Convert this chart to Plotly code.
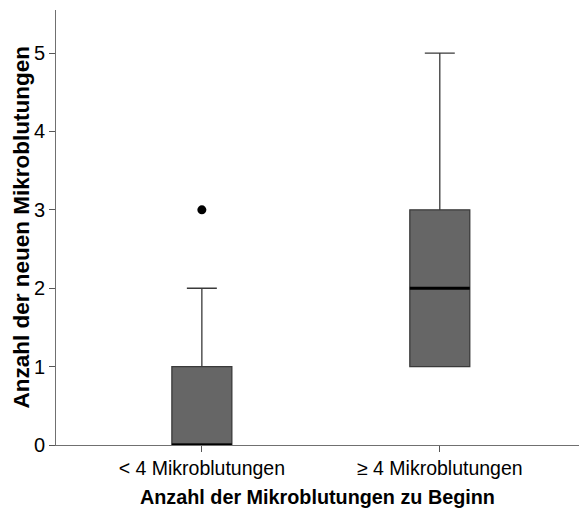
import plotly.graph_objects as go

# Gruppen und Kennwerte der Boxplots
categories = ["< 4 Mikroblutungen", "≥ 4 Mikroblutungen"]
positions = [0, 1]
q1 = [0, 1]
median = [0, 2]
q3 = [1, 3]
lower_whisker = [0, 1]
upper_whisker = [2, 5]
outlier_group = [0]
outlier_value = [3]

BOX_WIDTH = 0.252
FONT = "Liberation Sans, Arial, sans-serif"

fig = go.Figure()

for i, pos in enumerate(positions):
    fig.add_trace(go.Box(
        x=[pos], q1=[q1[i]], median=[median[i]], q3=[q3[i]],
        lowerfence=[lower_whisker[i]], upperfence=[upper_whisker[i]],
        width=BOX_WIDTH, whiskerwidth=0.5,
        fillcolor="#666666",
        line=dict(color="#3a3a3a", width=1.3),
        boxpoints=False, hoverinfo="skip", showlegend=False,
    ))
    # Median als kräftige schwarze Linie
    fig.add_trace(go.Scatter(
        x=[pos - BOX_WIDTH / 2, pos + BOX_WIDTH / 2],
        y=[median[i], median[i]],
        mode="lines", line=dict(color="black", width=3),
        cliponaxis=False, hoverinfo="skip", showlegend=False,
    ))

# Ausreißer
fig.add_trace(go.Scatter(
    x=[positions[g] for g in outlier_group], y=outlier_value,
    mode="markers", marker=dict(color="black", size=9),
    cliponaxis=False, hoverinfo="skip", showlegend=False,
))

fig.update_layout(
    width=580, height=513,
    margin=dict(l=56, r=1, t=10, b=68),
    paper_bgcolor="white", plot_bgcolor="white",
    font=dict(family=FONT, size=19.5, color="black"),
    xaxis=dict(
        range=[-0.613, 1.585], tickvals=positions, ticktext=categories,
        showline=True, linecolor="#707070", linewidth=1,
        ticks="outside", ticklen=6, tickcolor="#555555",
        showgrid=False, zeroline=False,
        tickfont=dict(size=19.5),
    ),
    yaxis=dict(
        range=[0, 5.55], tickvals=[0, 1, 2, 3, 4, 5],
        showline=True, linecolor="#707070", linewidth=1,
        ticks="outside", ticklen=6, tickcolor="#555555",
        showgrid=False, zeroline=False,
        tickfont=dict(size=20),
    ),
    annotations=[
        dict(text="<b>Anzahl der Mikroblutungen zu Beginn</b>",
             xref="paper", yref="paper", x=0.5, y=0, yshift=-52,
             xanchor="center", yanchor="middle", showarrow=False,
             font=dict(size=19.8)),
        dict(text="<b>Anzahl der neuen Mikroblutungen</b>",
             xref="paper", yref="paper", x=0, y=0.5, xshift=-35,
             xanchor="center", yanchor="middle", showarrow=False,
             textangle=-90, font=dict(size=22.5)),
    ],
)

fig.write_html("out.html")
